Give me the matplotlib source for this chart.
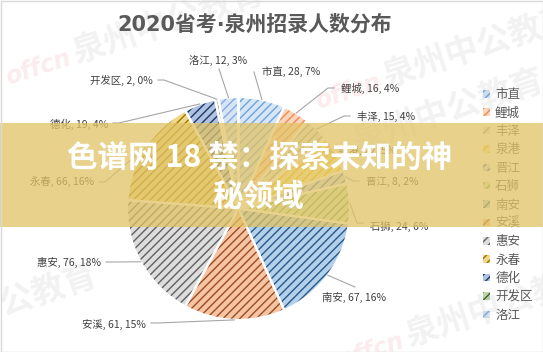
import numpy as np
import matplotlib.pyplot as plt
from matplotlib.patches import Patch, Rectangle

plt.rcParams['font.family'] = ['Noto Sans CJK SC', 'DejaVu Sans']
plt.rcParams['hatch.linewidth'] = 1.0

# data (泉港 is hidden under the banner, estimated)
regions = ['市直', '鲤城', '丰泽', '泉港', '晋江', '石狮', '南安',
           '安溪', '惠安', '永春', '德化', '开发区', '洛江']
counts = [28, 16, 15, 22, 8, 24, 67, 61, 76, 66, 19, 2, 12]
pcts = [7, 4, 4, 5, 2, 6, 16, 15, 18, 16, 4, 0, 3]

# pattern colours: (background, hatch)
face_cols = ['#D6E6F6', '#FAD6BE', '#E6E6E6', '#FFEBB0', '#D0DCF0', '#D8EACB', '#B4D1EC',
             '#F6C4A2', '#DDDDDD', '#F0D88A', '#AFC2E3', '#BCD6A9', '#D6E4F5']
hatch_cols = ['#6FA3DB', '#EE8A4E', '#A0A0A0', '#F5B800', '#3F69B5', '#65A13F', '#285888',
              '#984C24', '#606060', '#9C7400', '#1D3862', '#3C5E26', '#82ABDF']

W, H = 543, 352
cx, cy, R = 238.5, 208.5, 111.5   # pie centre / radius in pixels

# label layout, pixel coords: text x, text y, ha, attach x, attach y, stub
lab_pos = [(262, 72, 'left', 254, 72, 0),
           (341, 88, 'left', 334, 88, 6),
           (357, 116, 'left', 350, 116, 6),
           (338, 150, 'left', 331, 150, 6),
           (366, 182, 'left', 359, 181, 6),
           (370, 226, 'left', 363, 223, 6),
           (322, 297, 'left', 355, 287, 0),
           (146, 324, 'right', 151, 323, 6),
           (101, 262, 'right', 106, 262, 6),
           (94, 182, 'right', 99, 182, 6),
           (108, 124, 'right', 113, 123, 6),
           (153, 80, 'right', 158, 80, 6),
           (218, 61, 'center', 219, 69, 0)]

# faint "offcn 泉州中公教育" watermark anchors (pixels)
wm_pos = [(72, 64), (382, 88), (352, 152), (-95, 347), (405, 347)]

fig = plt.figure(figsize=(W / 100, H / 100), dpi=100)
ax = fig.add_axes([0, 0, 1, 1])

wedges, _ = ax.pie(counts, startangle=90, counterclock=False,
                   center=(cx, H - cy), radius=R)
for w, fc, hc in zip(wedges, face_cols, hatch_cols):
    w.set_facecolor(fc)
    w.set_edgecolor(hc)
    w.set_hatch('////')
    w.set_linewidth(0)
# white gaps between slices
ax.pie(counts, startangle=90, counterclock=False, center=(cx, H - cy), radius=R,
       colors=['none'] * len(counts), wedgeprops=dict(edgecolor='white', linewidth=1.6))

total = sum(counts)
ang0 = 90.0
for name, v, p, lp in zip(regions, counts, pcts, lab_pos):
    sweep = v / total * 360
    mid = np.radians(ang0 - sweep / 2)
    ang0 -= sweep
    ex, ey = cx + R * np.cos(mid), H - cy + R * np.sin(mid)
    tx, ty, ha, axp, ayp, stub = lp
    sx = axp - stub if ha == 'left' else axp + stub
    ax.plot([ex, sx, axp], [ey, H - ayp, H - ayp], color='#A6A6A6', lw=0.8, zorder=3)
    ax.text(tx, H - ty, f'{name}, {v}, {p}%', ha=ha, va='center',
            fontsize=7.5, color='#404040', zorder=4)

ax.text(255, H - 25, '2020省考·泉州招录人数分布', ha='center', va='center',
        fontsize=15, fontweight='bold', color='#595959',
        family=['DejaVu Sans', 'Noto Sans CJK SC'])

handles = [Patch(facecolor=fc, edgecolor=hc, hatch='////', linewidth=0)
           for fc, hc in zip(face_cols, hatch_cols)]
leg = ax.legend(handles, regions, loc='upper left', bbox_to_anchor=(477 / W, 1 - 82 / H),
                frameon=False, fontsize=9, handlelength=0.55, handleheight=0.55,
                handletextpad=0.4, labelspacing=0.43, borderpad=0)
for t in leg.get_texts():
    t.set_color('#595959')

# watermark
for wx, wy in wm_pos:
    ax.text(wx, H - wy, 'offcn', ha='right', va='baseline', rotation=18,
            rotation_mode='anchor', fontsize=17, fontweight='bold', style='italic',
            color='#E04848', alpha=0.10, family='DejaVu Sans', zorder=6)
    ax.text(wx + 4, H - wy, '泉州中公教育', ha='left', va='baseline', rotation=18,
            rotation_mode='anchor', fontsize=24, fontweight='bold',
            color='#808080', alpha=0.10, zorder=6)

# banner overlay
ax.add_patch(Rectangle((0, H - 227), W, 104, facecolor='#E1C365', alpha=0.75,
                       edgecolor='none', zorder=10))
ax.text(260, H - 158, '色谱网 18 禁：探索未知的神', ha='center', va='center',
        fontsize=22, fontweight='bold', color='white', zorder=11)
ax.text(258, H - 197, '秘领域', ha='center', va='center',
        fontsize=22, fontweight='bold', color='white', zorder=11)

ax.add_patch(Rectangle((0.5, 0.5), W - 1, H - 1, fill=False, edgecolor='#D9D9D9', lw=1, zorder=12))

ax.set_xlim(0, W)
ax.set_ylim(0, H)
ax.set_aspect('auto')
ax.axis('off')
fig.savefig('out.png', dpi=100)
